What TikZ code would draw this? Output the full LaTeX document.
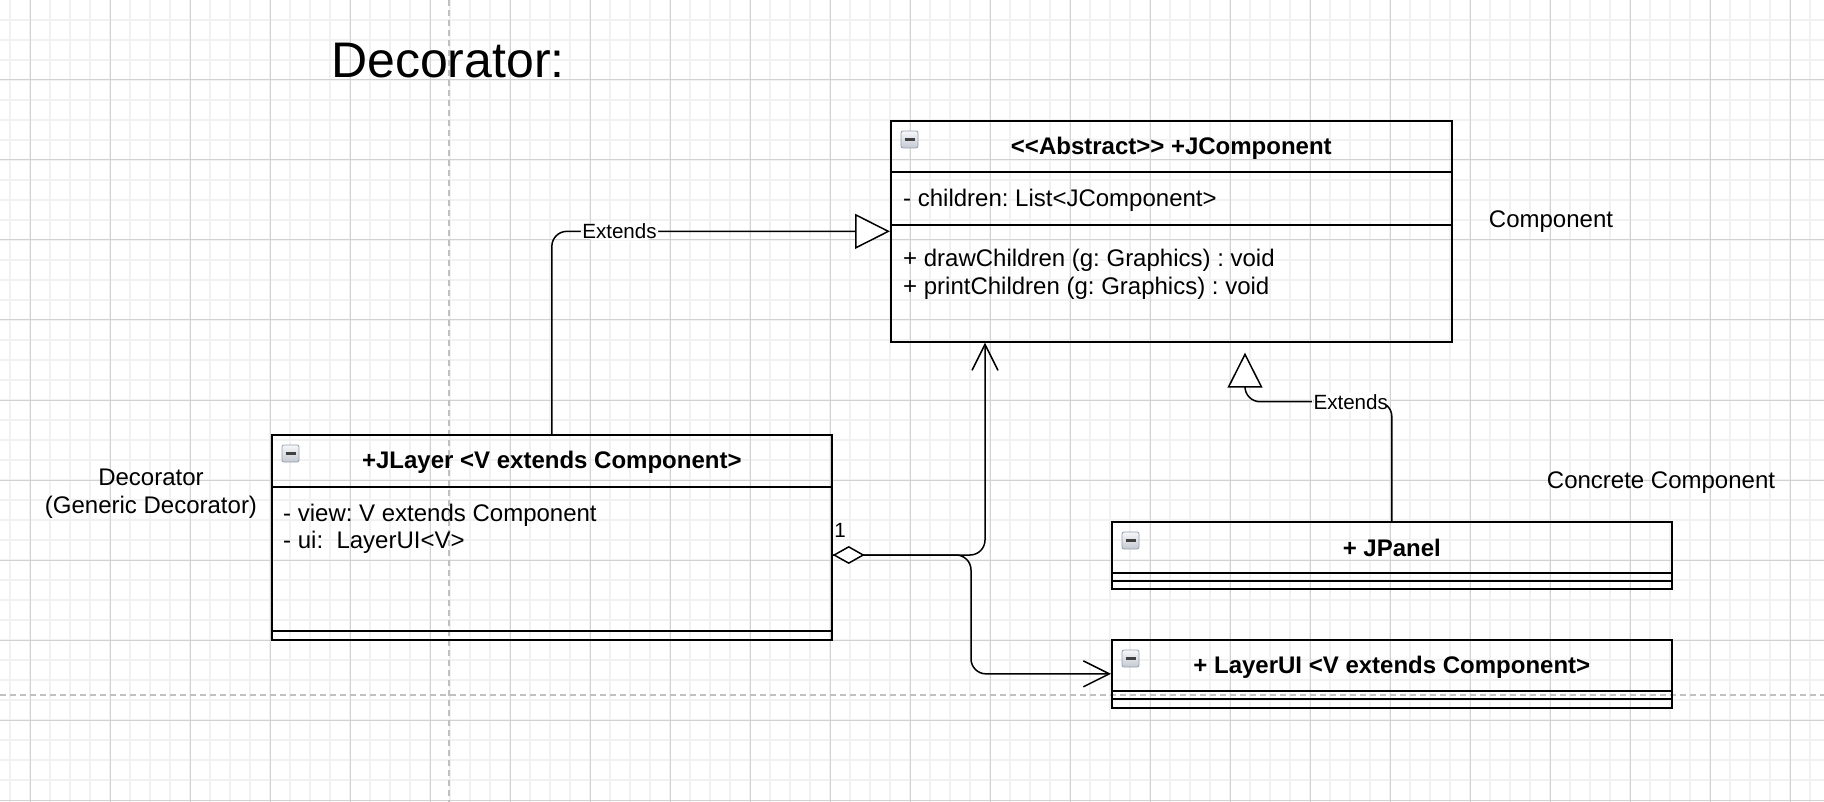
\documentclass[tikz,border=0pt]{standalone}
\usepackage{fontspec}
\setmainfont{Liberation Sans}
\usetikzlibrary{calc,arrows.meta,positioning}
\frenchspacing

\definecolor{gridminor}{RGB}{241,241,241}
\definecolor{gridmajor}{RGB}{210,210,210}
\definecolor{pagebreak}{RGB}{192,192,192}
\definecolor{iconedge}{RGB}{150,160,176}
\definecolor{icontop}{RGB}{246,247,249}
\definecolor{iconbottom}{RGB}{196,201,210}

\tikzset{
  minorgrid/.style={draw=gridminor, line width=1.2pt},
  majorgrid/.style={draw=gridmajor, line width=1pt},
  pagebreakline/.style={draw=pagebreak, line width=1.4pt, dash pattern=on 6pt off 4pt},
  classbox/.style={draw, line width=1.7pt, anchor=north west, inner sep=0pt, minimum width=560pt},
  classline/.style={line width=1.7pt},
  classhead/.style={anchor=base, inner sep=0pt, font=\fontsize{24}{28}\selectfont\bfseries},
  member/.style={anchor=base west, inner sep=0pt, font=\fontsize{24}{28}\selectfont},
  remark/.style={anchor=base, inner sep=0pt, font=\fontsize{24}{28}\selectfont},
  minicon/.style={draw=iconedge, line width=0.8pt, rounded corners=2pt, minimum size=17pt,
    inner sep=0pt, top color=icontop, bottom color=iconbottom,
    path picture={\draw[line width=2.6pt, black!75]
      ([xshift=-5pt]path picture bounding box.center) -- ([xshift=5pt]path picture bounding box.center);}},
  extends/.style={line width=1.5pt, rounded corners=15pt, -{Triangle[length=35pt,width=35pt,fill=white]}},
  assoc/.style={line width=1.5pt, rounded corners=15pt},
  edgelabel/.style={fill=white, inner sep=1.5pt, font=\fontsize{20.6}{24}\selectfont},
}

\begin{document}
\begin{tikzpicture}[x=1pt,y=-1pt]
    \useasboundingbox (0,0) rectangle (1824,802);
    % background grid
    \fill[white] (0,0) rectangle (1824,802);
    \foreach \gx in {10,30,...,1810} \draw[minorgrid] (\gx,0) -- (\gx,802);
    \foreach \gy in {20,40,...,780} \draw[minorgrid] (0,\gy) -- (1824,\gy);
    \foreach \gx in {30,110,...,1790} \draw[majorgrid] (\gx,0) -- (\gx,802);
    \foreach \gy in {0,80,...,800} \draw[majorgrid] (0,\gy) -- (1824,\gy);
    \draw[pagebreakline] (449,0) -- (449,802);
    \draw[pagebreakline] (0,695) -- (1824,695);

    \node[anchor=base west, inner sep=0pt, font=\fontsize{50}{60}\selectfont] (title) at (331,78) {Decorator:};

    % <<Abstract>> +JComponent
    \node[classbox, minimum width=561pt, minimum height=221pt] (jcomp) at (890,120) {};
    \draw[classline] ($(jcomp.north west)+(0,52)$) -- ($(jcomp.north east)+(0,52)$);
    \draw[classline] ($(jcomp.north west)+(0,105)$) -- ($(jcomp.north east)+(0,105)$);
    \node[minicon] (jcompicon) at ($(jcomp.north west)+(19.5,19.5)$) {};
    \node[classhead] (jcomphead) at ($(jcomp.north)+(0,35)$) {<\kern0pt<Abstract>\kern0pt> +JComponent};
    \node[member] (jcompattr) at ($(jcomp.north west)+(13,87)$) {- children: List<JComponent>};
    \node[member] (jcompdraw) at ($(jcomp.north west)+(13,147)$) {+ drawChildren (g: Graphics) : void};
    \node[member] (jcompprint) at ($(jcomp.north west)+(13,175)$) {+ printChildren (g: Graphics) : void};

    % +JLayer
    \node[classbox, minimum height=205pt] (jlayer) at (271,434) {};
    \draw[classline] ($(jlayer.north west)+(0,53)$) -- ($(jlayer.north east)+(0,53)$);
    \draw[classline] ($(jlayer.north west)+(0,197)$) -- ($(jlayer.north east)+(0,197)$);
    \node[minicon] (jlayericon) at ($(jlayer.north west)+(19.5,19.5)$) {};
    \node[classhead] (jlayerhead) at ($(jlayer.north)+(0,34.5)$) {+JLayer <V extends Component>};
    \node[member] (jlayerview) at ($(jlayer.north west)+(12,87)$) {- view: V extends Component};
    \node[member] (jlayerui) at ($(jlayer.north west)+(12,114)$) {- ui:\ \ LayerUI<V>};

    % + JPanel
    \node[classbox, minimum height=67pt] (jpanel) at (1111,521) {};
    \draw[classline] ($(jpanel.north west)+(0,52)$) -- ($(jpanel.north east)+(0,52)$);
    \draw[classline] ($(jpanel.north west)+(0,60)$) -- ($(jpanel.north east)+(0,60)$);
    \node[minicon] (jpanelicon) at ($(jpanel.north west)+(19.5,19.5)$) {};
    \node[classhead] (jpanelhead) at ($(jpanel.north)+(0,35)$) {+ JPanel};

    % + LayerUI
    \node[classbox, minimum height=68pt] (layerui) at (1111,639) {};
    \draw[classline] ($(layerui.north west)+(0,52)$) -- ($(layerui.north east)+(0,52)$);
    \draw[classline] ($(layerui.north west)+(0,60)$) -- ($(layerui.north east)+(0,60)$);
    \node[minicon] (layeruiicon) at ($(layerui.north west)+(19.5,19.5)$) {};
    \node[classhead] (layeruihead) at ($(layerui.north)+(0,34.5)$) {+ LayerUI <V extends Component>};

    % role notes
    \node[remark] (compnote) at (1551,228) {Component};
    \node[remark] (concnote) at (1661,488) {Concrete Component};
    \node[remark] (decnote) at (151,485) {Decorator};
    \node[remark] (decnoteb) at (151,513) {(Generic Decorator)};

    % connectors
    \coordinate (aggstart) at ($(jlayer.north east)+(0,121)$);
    \coordinate (ptip) at ($(jcomp.south west)+(355,10)$);
    \draw[extends] (jlayer.north) |- node[edgelabel,pos=0.6]{Extends} (jcomp.west);
    \draw[extends] (jpanel.north) |- node[edgelabel,pos=0.64]{Extends} ($(ptip)+(0,49)$) -- (ptip);
    \draw[assoc, -{Straight Barb[length=26pt,width=26pt]}] (aggstart) -| ($(layerui.west)+(-140,0)$) -- (layerui.west);
    \draw[assoc, {Diamond[length=32pt,width=18pt,fill=white]}-{Straight Barb[length=26pt,width=26pt]}]
      (aggstart) -| ($(jcomp.south west)+(95,0)$);
    \node[anchor=base, inner sep=0pt, font=\fontsize{20.6}{24}\selectfont] (mult) at (840,537) {1};
\end{tikzpicture}
\end{document}
